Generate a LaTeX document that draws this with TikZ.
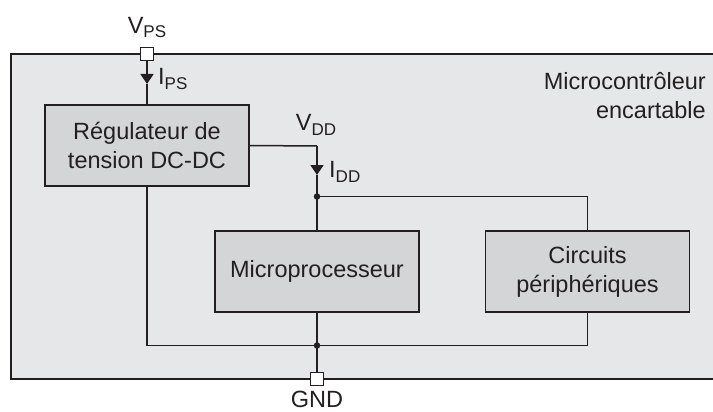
\documentclass[tikz,border=0pt]{standalone}
\usepackage{fontspec}
\setmainfont{Liberation Sans}
\usetikzlibrary{arrows.meta, calc}
\definecolor{wire}{HTML}{231F20}
\definecolor{chipfill}{HTML}{E6E7E8}
\definecolor{blockfill}{HTML}{D4D5D7}
\newcommand{\lowsub}[1]{\raisebox{-0.35ex}{\fontsize{17}{17}\selectfont #1}}
\tikzset{
  wireline/.style = {draw=wire, line width=1.5pt},
  block/.style = {wireline, fill=blockfill, align=center, inner sep=0pt,
    minimum width=204pt, minimum height=81pt},
  pin/.style = {draw=wire, line width=1.3pt, fill=white, minimum size=13pt, inner sep=0pt},
  junction/.style = {circle, fill=wire, minimum size=6.5pt, inner sep=0pt},
  lbl/.style = {text=wire, inner sep=0pt, font=\fontsize{23.5}{29}\selectfont},
  flow/.style = {wireline, -{Triangle[length=10pt, width=13pt]}}
}

\begin{document}
\begin{tikzpicture}[x=1pt, y=-1pt]
\clip (0,0) rectangle (713,412);
\draw[wireline, fill=chipfill] (11,54) rectangle (740,379);

\node[block, lbl] (reg) at (147,145.5) {Régulateur de\\tension DC-DC};
\node[block, lbl] (micro) at (317,271.5) {Microprocesseur};
\node[block, lbl] (circ) at (587.5,271.5) {Circuits\\périphériques};

\coordinate (ips) at (147,84);
\coordinate (vdd) at (317,146);
\coordinate (idd) at (317,175);
\node[junction] (jtop) at (317,196.5) {};
\node[junction] (jbot) at (317,345.5) {};

\draw[flow] (147,54) -- (ips);
\draw[wireline] (ips) -- (reg.north);
\draw[wireline] (reg.east) -- (vdd);
\draw[flow] (vdd) -- (idd);
\draw[wireline] (idd) -- (jtop.center) -- (micro.north);
\draw[wireline] (jtop.center) -| (circ.north);
\draw[wireline] (reg.south) |- (jbot.center) -| (circ.south);
\draw[wireline] (micro.south) -- (jbot.center) -- (317,379);

\node[pin] (vps) at (147,54) {};
\node[pin] (gnd) at (317,379) {};

\node[lbl, above=9pt] at (vps.north) {V\lowsub{PS}};
\node[lbl, anchor=west] at (158,79) {I\lowsub{PS}};
\node[lbl] at (316,125) {V\lowsub{DD}};
\node[lbl, anchor=west] at (329,172) {I\lowsub{DD}};
\node[lbl, anchor=north] at (317,391) {GND};
\node[lbl, align=right, anchor=north east] at (706,72) {Microcontrôleur\\encartable};
\end{tikzpicture}
\end{document}
